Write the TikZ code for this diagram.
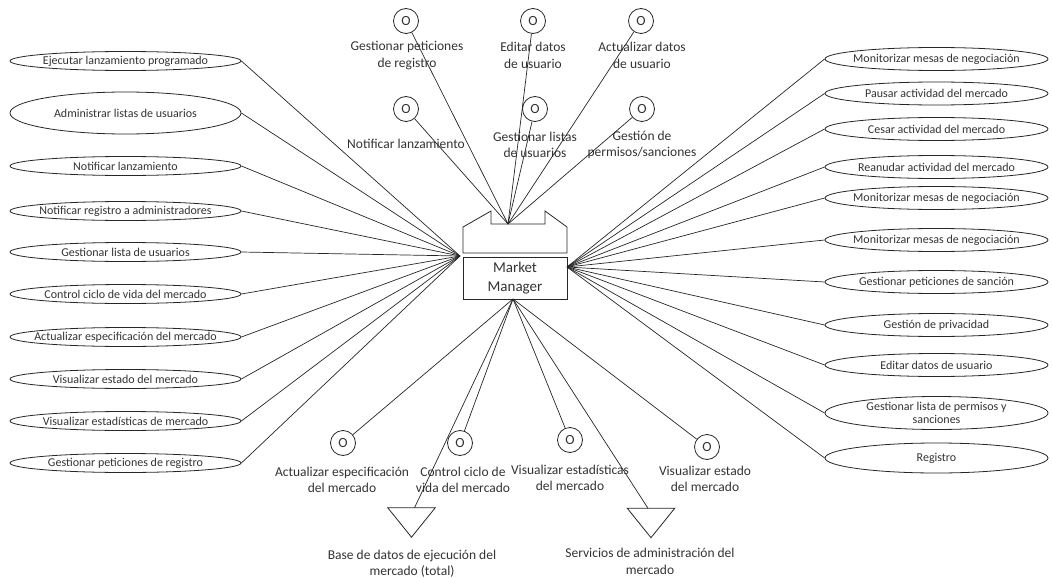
\documentclass[tikz,border=0pt]{standalone}
\usepackage{fontspec}
\setmainfont{Carlito}
\usetikzlibrary{shapes.geometric}
\begin{document}
\begin{tikzpicture}[x=1pt,y=-1pt,
  wire/.style={draw=black!85, line width=0.7pt},
  usecase/.style={ellipse, draw=black!85, line width=0.8pt,
    inner xsep=-25pt, inner ysep=0pt,
    minimum height=19pt, align=center,
    font=\fontsize{12}{13.5}\selectfont, text=black!80},
  leftuc/.style={usecase, minimum width=231pt},
  rightuc/.style={usecase, minimum width=223pt, minimum height=23pt},
  port/.style={circle, draw=black!85, line width=0.8pt, minimum size=25pt,
    inner sep=0pt, font=\fontsize{14}{16}\selectfont, text=black!80},
  tag/.style={align=center, inner sep=0pt,
    font=\fontsize{13.5}{16.5}\selectfont, text=black!80},
  store/.style={minimum width=47pt, minimum height=29pt, inner sep=0pt},
  housing/.style={draw=black!85, line width=0.8pt}
]
\useasboundingbox (0,0) rectangle (1052,578);

% ---- component: Market Manager ----
\node[housing, minimum width=104pt, minimum height=42pt, inner sep=0pt,
  align=center, font=\fontsize{15}{19}\selectfont, text=black!80]
  (mm) at (515,278) {Market\\Manager};
\draw[housing] (463,253) -- (463,227) -- (491,211) -- (491,224) -- (545,224)
  -- (545,211) -- (567,227) -- (567,253) -- cycle;

\coordinate (hubL) at (460,256);
\coordinate (hubR) at (567,267);
\coordinate (hubT) at (508,224);
\coordinate (hubB) at (513,299);

% ---- use cases on the left ----
\node[leftuc] (L1)  at (125.5,61)  {Ejecutar lanzamiento programado};
\node[leftuc, minimum height=42pt] (L2) at (125.5,113) {Administrar listas de usuarios};
\node[leftuc] (L3)  at (125.5,166) {Notificar lanzamiento};
\node[leftuc] (L4)  at (125.5,211) {Notificar registro a administradores};
\node[leftuc] (L5)  at (125.5,252) {Gestionar lista de usuarios};
\node[leftuc] (L6)  at (125.5,294) {Control ciclo de vida del mercado};
\node[leftuc] (L7)  at (125.5,337) {Actualizar especificación del mercado};
\node[leftuc] (L8)  at (125.5,379) {Visualizar estado del mercado};
\node[leftuc] (L9)  at (125.5,421) {Visualizar estadísticas de mercado};
\node[leftuc] (L10) at (125.5,463) {Gestionar peticiones de registro};

\foreach \n in {L1,L2,L3,L4,L5,L6,L7,L8,L9,L10}
  \draw[wire] (\n.east) -- (hubL);

% ---- use cases on the right ----
\node[rightuc] (R1)  at (936.5,59)  {Monitorizar mesas de negociación};
\node[rightuc] (R2)  at (936.5,93.5){Pausar actividad del mercado};
\node[rightuc] (R3)  at (936.5,129) {Cesar actividad del mercado};
\node[rightuc] (R4)  at (936.5,167) {Reanudar actividad del mercado};
\node[rightuc] (R5)  at (936.5,198) {Monitorizar mesas de negociación};
\node[rightuc] (R6)  at (936.5,240) {Monitorizar mesas de negociación};
\node[rightuc] (R7)  at (936.5,282) {Gestionar peticiones de sanción};
\node[rightuc] (R8)  at (936.5,325) {Gestión de privacidad};
\node[rightuc] (R9)  at (936.5,365) {Editar datos de usuario};
\node[rightuc, minimum height=33pt] (R10) at (936.5,413) {Gestionar lista de permisos y\\sanciones};
\node[rightuc, minimum height=30pt] (R11) at (936.5,458) {Registro};

\foreach \n in {R1,R2,R3,R4,R5,R6,R7,R8,R9,R10,R11}
  \draw[wire] (\n.west) -- (hubR);

% ---- provided interfaces above ----
\node[port] (T1) at (406,21)  {O};
\node[port] (T2) at (533,21)  {O};
\node[port] (T3) at (641,21)  {O};
\node[port] (T4) at (406,109) {O};
\node[port] (T5) at (535,109) {O};
\node[port] (T6) at (642,109) {O};

\node[tag] (t1) at (407,55.5) {Gestionar peticiones\\de registro};
\node[tag] (t2) at (533,55.5) {Editar datos\\de usuario};
\node[tag] (t3) at (642,55.5) {Actualizar datos\\de usuario};
\node[tag] (t4) at (406,144)  {Notificar lanzamiento};
\node[tag] (t5) at (535,145)  {Gestionar listas\\de usuarios};
\node[tag] (t6) at (642,145)  {Gestión de\\permisos/sanciones};

\foreach \n in {T1,T2,T3,T4,T5,T6}
  \draw[wire] (\n) -- (hubT);

% ---- interfaces below ----
\node[port] (B1) at (343,443) {O};
\node[port] (B2) at (460,443) {O};
\node[port] (B3) at (570,440) {O};
\node[port] (B4) at (707,447) {O};

\node[tag] (b1) at (342,480) {Actualizar especificación\\del mercado};
\node[tag] (b2) at (463,480) {Control ciclo de\\vida del mercado};
\node[tag] (b3) at (570,478) {Visualizar estadísticas\\del mercado};
\node[tag] (b4) at (705,479) {Visualizar estado\\del mercado};

\foreach \n in {B1,B2,B3,B4}
  \draw[wire] (hubB) -- (\n);

% ---- required services (triangles) ----
\node[store] (S1) at (411.5,522.5) {};
\node[store] (S2) at (651,523) {};
\draw[housing] (S1.north west) -- (S1.north east) -- (S1.south) -- cycle;
\draw[housing] (S2.north west) -- (S2.north east) -- (S2.south) -- cycle;

\node[tag] (s1) at (412,563.5) {Base de datos de ejecución del\\mercado (total)};
\node[tag] (s2) at (650,561.5) {Servicios de administración del\\mercado};

\draw[wire] (hubB) -- ([xshift=3pt]S1.north);
\draw[wire] (hubB) -- ([xshift=-3pt]S2.north);
\end{tikzpicture}
\end{document}
